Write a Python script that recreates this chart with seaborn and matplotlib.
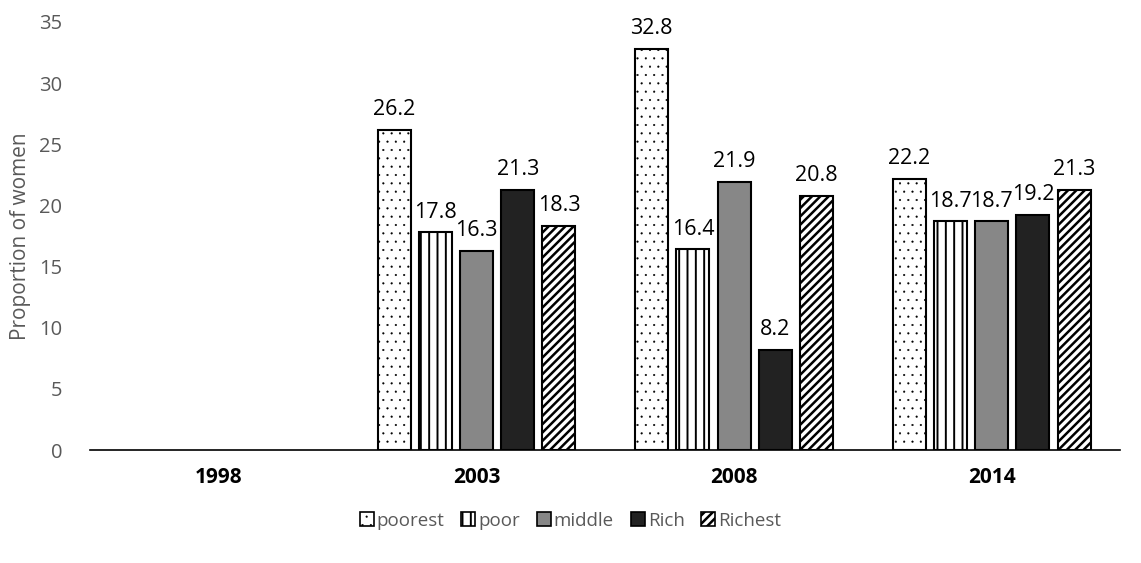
import numpy as np
import pandas as pd
import matplotlib
matplotlib.use("Agg")
import matplotlib.pyplot as plt
import seaborn as sns
from matplotlib.patches import Patch

years = ["1998", "2003", "2008", "2014"]
groups = ["poorest", "poor", "middle", "Rich", "Richest"]
poorest = [np.nan, 26.2, 32.8, 22.2]
poor = [np.nan, 17.8, 16.4, 18.7]
middle = [np.nan, 16.3, 21.9, 18.7]
rich = [np.nan, 21.3, 8.2, 19.2]
richest = [np.nan, 18.3, 20.8, 21.3]

series = [poorest, poor, middle, rich, richest]
rows = []
for g, vals in zip(groups, series):
    for y, v in zip(years, vals):
        rows.append({"year": y, "group": g, "value": v})
df = pd.DataFrame(rows).dropna()

sns.set_theme(style="white")
plt.rcParams["font.family"] = ["Open Sans", "DejaVu Sans"]
plt.rcParams["hatch.linewidth"] = 1.4

fills = {"poorest": "white", "poor": "white", "middle": "#878787",
         "Rich": "#222222", "Richest": "white"}
hatches = {"poorest": "..", "poor": "||", "middle": "", "Rich": "", "Richest": "////"}
hatch_lw = {"poorest": 0.3, "poor": 1.4, "middle": 1.0, "Rich": 1.0, "Richest": 1.8}

fig = plt.figure(figsize=(11.41, 5.63), dpi=100)
ax = fig.add_axes([0.079, 0.2007, 0.903, 0.7603])

sns.barplot(data=df, x="year", y="value", hue="group", order=years,
            hue_order=groups, palette=fills, width=0.8, gap=0.2,
            edgecolor="black", linewidth=1.5, errorbar=None, ax=ax,
            legend=False)

for cont, g in zip(ax.containers, groups):
    for bar in cont:
        bar.set_hatch(hatches[g])
        bar.set_edgecolor("black")
        if hasattr(bar, "set_hatch_linewidth"):
            bar.set_hatch_linewidth(hatch_lw[g])
    ax.bar_label(cont, fmt="%.1f", padding=7, fontsize=15.5, color="black")

ax.set_ylim(0, 35)
ax.set_yticks(range(0, 36, 5))
ax.set_xlim(-0.5, 3.5)
ax.set_xlabel("")
ax.set_ylabel("Proportion of women", fontsize=15, color="#595959", labelpad=6)
ax.tick_params(axis="y", labelsize=14.5, colors="#595959", length=0, pad=20)
ax.tick_params(axis="x", labelsize=15, colors="black", length=0, pad=12)
for lbl in ax.get_xticklabels():
    lbl.set_fontweight("bold")
for s in ["top", "right", "left"]:
    ax.spines[s].set_visible(False)
ax.spines["bottom"].set_color("black")
ax.spines["bottom"].set_linewidth(1.2)

handles = []
for g in groups:
    p = Patch(facecolor=fills[g], edgecolor="black", hatch=hatches[g],
              linewidth=1.2, label=g)
    handles.append(p)
leg = fig.legend(handles=handles, loc="center", bbox_to_anchor=(0.5, 0.075),
                 ncol=5, frameon=False, fontsize=13.5, handlelength=0.75,
                 handleheight=0.75, handletextpad=0.15, columnspacing=0.9,
                 labelcolor="#595959")
for h, g in zip(leg.legend_handles, groups):
    if hasattr(h, "set_hatch_linewidth"):
        h.set_hatch_linewidth(hatch_lw[g])

fig.savefig("out.png", dpi=100)
